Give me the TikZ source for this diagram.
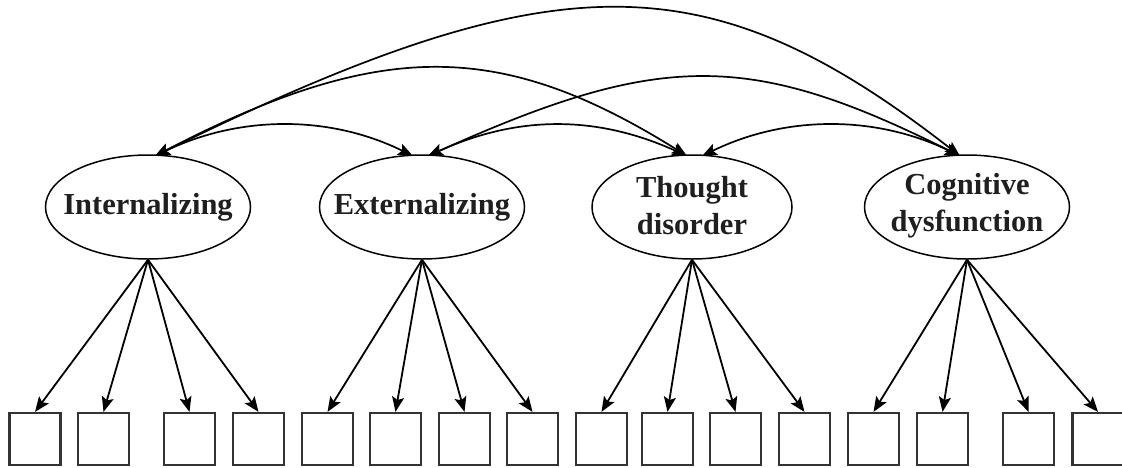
\documentclass[tikz,border=0pt]{standalone}
\usepackage{fontspec}
\setmainfont{Liberation Serif}
\usetikzlibrary{shapes.geometric,arrows.meta}
\begin{document}
\begin{tikzpicture}[x=1pt,y=-1pt,
  factor/.style={draw=black, line width=1.5pt, ellipse, minimum width=205pt,
    minimum height=104pt, inner sep=0pt},
  flabel/.style={font=\fontsize{30.5}{37}\selectfont\bfseries, align=center,
    text=black!88},
  indicator/.style={draw=black!80, line width=2.2pt, minimum width=51pt,
    minimum height=52pt, inner sep=0pt},
  tip/.tip={Stealth[length=15pt,width=12pt,inset=3pt]},
  link/.style={line width=1.8pt, -tip},
  cov/.style={line width=1.7pt, tip-tip},
]
\useasboundingbox (0,0) rectangle (1122,467);

% latent factors
\node[factor] (int) at (148,207) {};
\node[flabel] at (int) {Internalizing};
\node[factor] (ext) at (422,207) {};
\node[flabel] at (ext) {Externalizing};
\node[factor, minimum width=200pt] (tho) at (692,207) {};
\node[flabel] at ([yshift=1pt]tho) {Thought\\disorder};
\node[factor] (cog) at (967,207) {};
\node[flabel] at ([yshift=1pt]cog) {Cognitive\\dysfunction};

% attachment points of the covariance arcs
\coordinate (int-a) at (155,156);
\coordinate (ext-l) at (413,156);
\coordinate (ext-r) at (428,156);
\coordinate (tho-l) at (687,156);
\coordinate (tho-r) at (702,156);
\coordinate (cog-a) at (960,156);

% covariances between factors
\draw[cov] (int-a) .. controls (557,-41) and (707,-41) .. (cog-a);
\draw[cov] (int-a) .. controls (380,39) and (500,39) .. (tho-l);
\draw[cov] (int-a) .. controls (240,115) and (330,115) .. (ext-l);
\draw[cov] (ext-r) .. controls (661,51) and (750,51) .. (cog-a);
\draw[cov] (ext-r) .. controls (518,115) and (597,115) .. (tho-l);
\draw[cov] (tho-r) .. controls (786,115) and (876,115) .. (cog-a);

% observed indicators
\foreach \i/\x in {1/35, 2/103.5, 3/189.5, 4/258.5, 5/327.5, 6/395.5,
                   7/464.5, 8/532.5, 9/601.5, 10/667.5, 11/735.5, 12/804.5,
                   13/873.5, 14/942.5, 15/1028.5, 16/1098}
  \node[indicator] (b\i) at (\x,439) {};

% loadings
\foreach \i in {1,...,4}   \draw[link] (int.south) -- (b\i.north);
\foreach \i in {5,...,8}   \draw[link] (ext.south) -- (b\i.north);
\foreach \i in {9,...,12}  \draw[link] (tho.south) -- (b\i.north);
\foreach \i in {13,...,16} \draw[link] (cog.south) -- (b\i.north);
\end{tikzpicture}
\end{document}
